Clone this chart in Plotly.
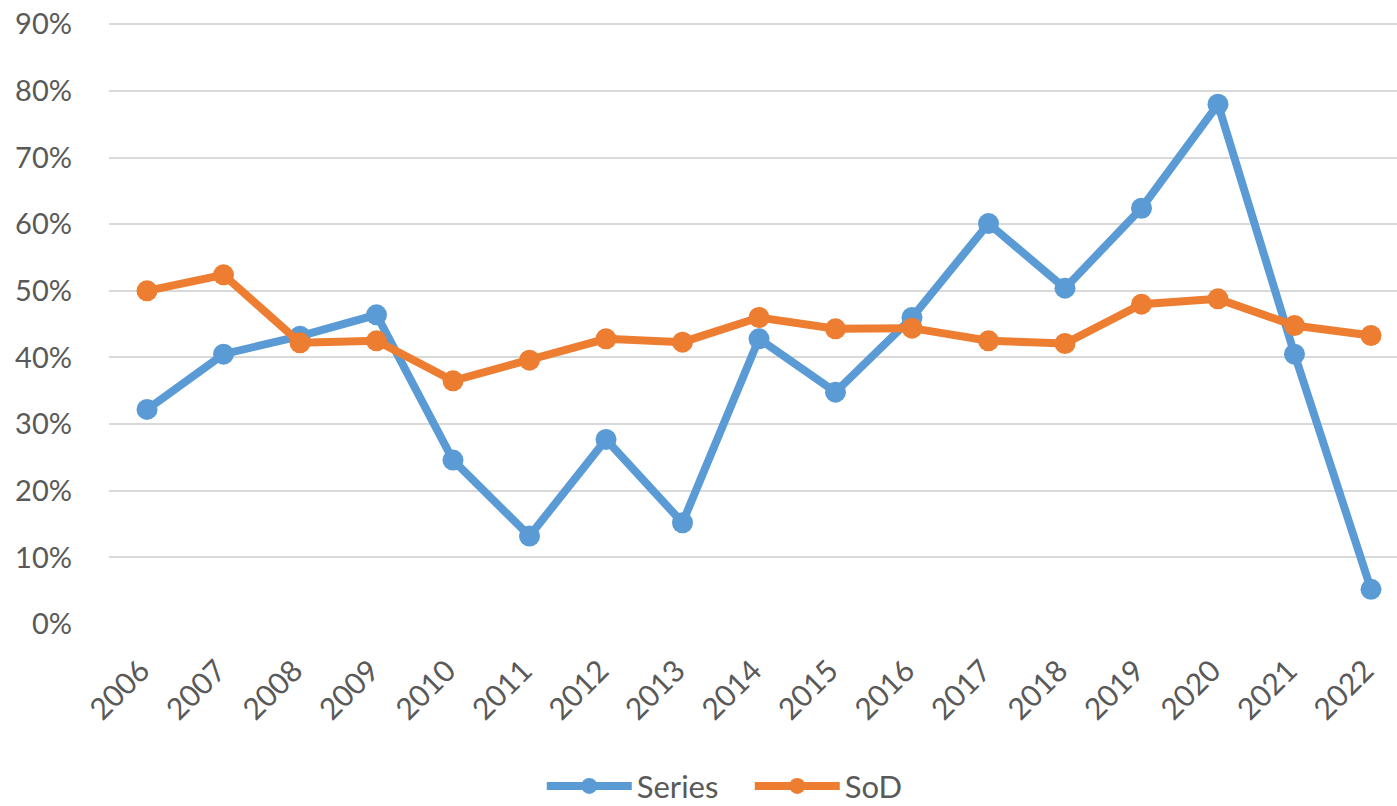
import plotly.graph_objects as go

# 年
years = [2006, 2007, 2008, 2009, 2010, 2011, 2012, 2013, 2014, 2015, 2016, 2017, 2018, 2019, 2020, 2021, 2022]
year_labels = [str(y) for y in years]

# 系列値（割合）
series_vals = [0.322, 0.405, 0.432, 0.464, 0.246, 0.132, 0.277, 0.152, 0.428, 0.348, 0.460, 0.601, 0.504, 0.624, 0.780, 0.405, 0.052]
sod_vals = [0.500, 0.524, 0.422, 0.425, 0.365, 0.396, 0.428, 0.423, 0.460, 0.443, 0.444, 0.425, 0.421, 0.480, 0.488, 0.448, 0.433]

y_ticks = [i / 10 for i in range(10)]
y_tick_labels = [f'{i * 10}%' for i in range(10)]

BLUE = '#5B9BD5'
ORANGE = '#ED7D31'
TEXT = '#595959'
FONT = 'Lato, Open Sans, sans-serif'

fig = go.Figure()
fig.add_trace(go.Scatter(
    x=years, y=series_vals, mode='lines+markers', name='Series',
    line=dict(color=BLUE, width=8), marker=dict(size=21, color=BLUE)
))
fig.add_trace(go.Scatter(
    x=years, y=sod_vals, mode='lines+markers', name='SoD',
    line=dict(color=ORANGE, width=8), marker=dict(size=21, color=ORANGE)
))

fig.update_layout(
    width=1397, height=806,
    paper_bgcolor='white', plot_bgcolor='white',
    margin=dict(l=109, r=0, t=23, b=182, autoexpand=False),
    font=dict(family=FONT, size=30, color=TEXT),
    showlegend=True,
    legend=dict(orientation='h', x=0.336, xanchor='left', y=-0.27, yanchor='middle',
                font=dict(size=31, color=TEXT), itemwidth=85, entrywidth=108, tracegroupgap=0),
)
fig.update_xaxes(
    range=[2005.503, 2022.34], tickmode='array', tickvals=years, ticktext=year_labels,
    tickangle=-45, showgrid=False, zeroline=False, showline=False, ticks='', automargin=False,
    tickfont=dict(size=30, color=TEXT), ticklabelshift=-6, ticklabelstandoff=22
)
fig.update_yaxes(
    range=[0, 0.902], tickmode='array', tickvals=y_ticks, ticktext=y_tick_labels,
    showgrid=True, gridcolor='#D9D9D9', gridwidth=2, zeroline=False, showline=False, automargin=False,
    ticks='', tickfont=dict(size=29, color=TEXT), ticklabelstandoff=36, ticklabeloverflow='allow'
)

# ページ本体の余白を消して図を左上に揃える
fig.write_html('out.html', config={'displayModeBar': False},
               post_script="document.body.style.margin='0';")
